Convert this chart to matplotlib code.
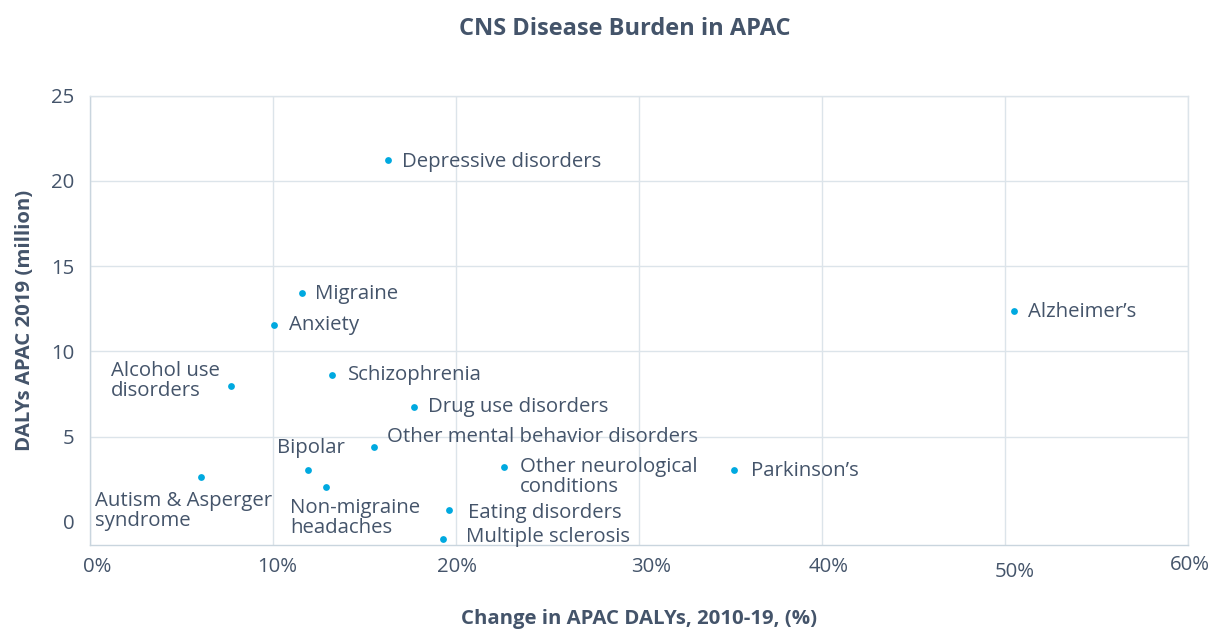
import matplotlib
matplotlib.use("Agg")
import matplotlib.pyplot as plt
from matplotlib.transforms import ScaledTranslation

plt.rcParams["font.family"] = ["Open Sans", "DejaVu Sans"]

diseases = ["Depressive disorders", "Migraine", "Anxiety", "Schizophrenia",
            "Drug use disorders", "Other mental behavior disorders",
            "Other neurological\nconditions", "Parkinson’s", "Alzheimer’s",
            "Eating disorders", "Multiple sclerosis", "Alcohol use\ndisorders",
            "Bipolar", "Autism & Asperger\nsyndrome", "Non-migraine\nheadaches"]
change_pct = [16.3, 11.6, 10.05, 13.2, 17.7, 15.5, 22.6, 35.2, 50.5,
              19.6, 19.3, 7.7, 11.9, 6.07, 12.9]
dalys_m = [21.2, 13.4, 11.55, 8.6, 6.75, 4.4, 3.22, 3.05, 12.37,
           0.7, -1.0, 7.97, 3.05, 2.64, 2.05]
x_ticks = [0, 10, 20, 30, 40, 50, 60]
y_ticks = [0, 5, 10, 15, 20, 25]

# label placement (pixel offsets from dot, alignment)
offsets = [(14, -2, "left"), (13, -1, "left"), (15, 0, "left"), (16, 0, "left"),
           (14, 0, "left"), (13, 10, "left"), (16, -10, "left"), (17, -1, "left"),
           (14, -1, "left"), (19, -3, "left"), (23, 2, "left"), (-11, 5, "right"),
           (3, 22, "center"), (-106, -34, "left"), (-36, -31, "left")]
# small nudges of the x tick labels, as in the original
tick_nudge = [(7, 0), (4, 0), (1, 0), (12, 0), (7, 0), (10, -5), (2, 2)]

text_col = "#44546a"
grid_col = "#dce4ea"
dot_col = "#00a9e0"

fig = plt.figure(figsize=(12.14, 6.32), dpi=100)
ax = fig.add_axes([0.0741, 0.1377, 0.9045, 0.7109])

ax.scatter(change_pct, dalys_m, s=24, color=dot_col, zorder=3, linewidths=0)

for name, x, y, (dx, dy, ha) in zip(diseases, change_pct, dalys_m, offsets):
    ax.annotate(name, (x, y), xytext=(dx, dy), textcoords="offset pixels",
                ha=ha, va="center", multialignment="left", fontsize=14.7,
                color=text_col, linespacing=0.95, zorder=4)

ax.set_xlim(0, 60)
ax.set_ylim(-1.35, 25)
ax.set_xticks(x_ticks)
ax.set_xticklabels([f"{v}%" for v in x_ticks])
ax.set_yticks(y_ticks)

ax.grid(True, color=grid_col, linewidth=1)
ax.get_ygridlines()[0].set_visible(False)
ax.set_axisbelow(True)
for s in ax.spines.values():
    s.set_color(grid_col)
    s.set_linewidth(1)
ax.spines["left"].set_color("#c9d5de")
ax.spines["bottom"].set_color("#c9d5de")

ax.tick_params(length=0, labelsize=14.7, labelcolor=text_col)
ax.tick_params(axis="x", pad=9)
ax.tick_params(axis="y", pad=11)

for lab, (dx, dy) in zip(ax.get_xticklabels(), tick_nudge):
    lab.set_transform(lab.get_transform() +
                      ScaledTranslation(dx / 100, dy / 100, fig.dpi_scale_trans))

ax.set_xlabel("Change in APAC DALYs, 2010-19, (%)", fontsize=14.7,
              fontweight="bold", color=text_col, labelpad=19)
ax.set_ylabel("DALYs APAC 2019 (million)", fontsize=14.7,
              fontweight="bold", color=text_col, labelpad=12)
fig.suptitle("CNS Disease Burden in APAC", fontsize=17, fontweight="bold",
             color=text_col, x=0.515, y=0.973)

fig.savefig("out.png", dpi=100, facecolor="white")
